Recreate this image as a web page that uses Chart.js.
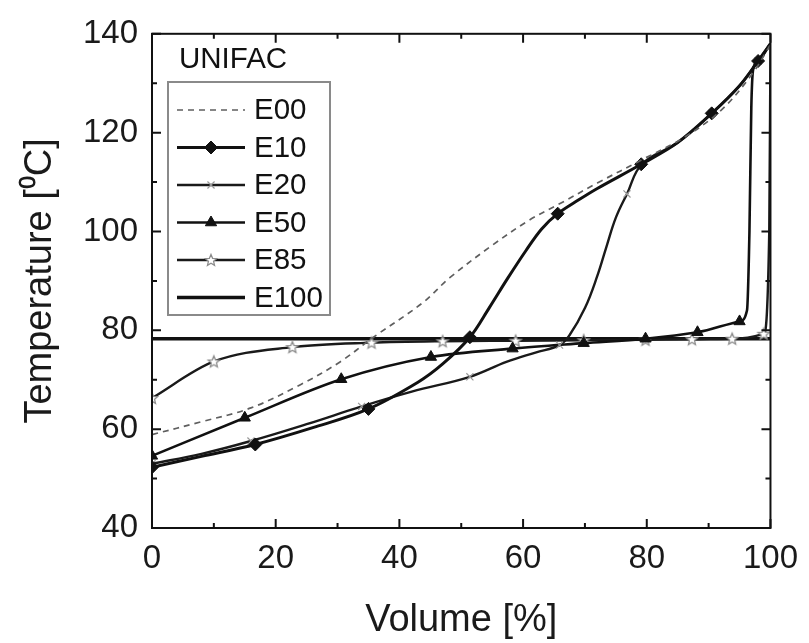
<!DOCTYPE html>
<html>
<head>
<meta charset="utf-8">
<script src="https://cdn.jsdelivr.net/npm/chart.js@4.4.1/dist/chart.umd.min.js"></script>
<style>
  html, body { margin: 0; padding: 0; background: #fff; }
  canvas { display: block; }
</style>
</head>
<body>
<canvas id="chart" width="809" height="643"></canvas>
<script>
// distillation curves, volume [%] vs temperature [C]
const seriesNames = ['E00', 'E10', 'E20', 'E50', 'E85', 'E100'];
const modelName = 'UNIFAC';

const e00X = [0, 8, 16, 24, 30.4, 35.8, 43.8, 48.1, 55, 61, 65.9, 72, 79.2, 86, 92, 97, 100];
const e00T = [58.9, 61.5, 64.3, 69, 73.6, 78.6, 85.6, 90.6, 97.2, 102.3, 105.6, 109.8, 114.5, 119, 124.5, 131.8, 137.8];

const e10X = [0, 8, 16.7, 26, 35, 43, 47, 51.4, 54.5, 57.5, 60.5, 63, 65.6, 69, 72, 79.1, 85, 90.5, 95, 98, 100];
const e10T = [52.3, 54.5, 56.9, 60.3, 64.1, 69.5, 73.2, 78.6, 84.5, 90.5, 96.2, 100.5, 103.6, 106.4, 108.7, 113.6, 118, 123.9, 129.5, 134.5, 138];
const e10Marks = [0, 2, 4, 7, 12, 15, 17, 19];

const e20X = [0, 8, 16, 25, 33.9, 42, 51.4, 57.3, 62, 65.9, 67.5, 70, 72, 73.5, 75, 76.8, 79.2, 85, 90.5, 95, 98, 100];
const e20T = [53, 55, 57.6, 61, 64.6, 67.6, 70.6, 73.6, 75.5, 77, 79, 84.5, 91, 97, 102.8, 107.6, 113.6, 118, 123.9, 129.5, 134.5, 138];
const e20Marks = [0, 2, 4, 6, 9, 15, 18, 20];

const e50X = [0, 15, 30.6, 45.1, 58.3, 69.8, 79.8, 88.2, 95, 96.2, 96.6, 96.9, 97.2, 98, 100];
const e50T = [54.6, 62.3, 70.1, 74.6, 76.3, 77.4, 78.3, 79.6, 81.8, 84, 100, 125, 132.8, 134.5, 138];
const e50Marks = [0, 1, 2, 3, 4, 5, 6, 7, 8];

const e85X = [0, 10, 22.7, 35.5, 47, 58.8, 69.8, 79.8, 87.3, 93.8, 98.9, 99.8, 100];
const e85T = [66.3, 73.7, 76.6, 77.5, 77.8, 77.9, 78.0, 78.1, 78.2, 78.3, 79.3, 100, 138];
const e85Marks = [0, 1, 2, 3, 4, 5, 6, 7, 8, 9, 10];

const e100X = [0, 100];
const e100T = [78.3, 78.3];

const xTicksMajor = 20, xTicksMinor = 10;
const yTicksMajor = 20, yTicksMinor = 10;

const FONT = '"Liberation Sans", Arial, Helvetica, sans-serif';

function pts(xs, ts) {
    return xs.map((x, i) => ({ x: x, y: ts[i] }));
}

function marked(list, r) {
    return ctx => list.includes(ctx.dataIndex) ? r : 0;
}

// small open star like the original marker
function makeStar(r, color) {
    const c = document.createElement('canvas');
    const s = Math.ceil(r * 2 + 4);
    c.width = s; c.height = s;
    const g = c.getContext('2d');
    g.translate(s / 2, s / 2 + 0.5);
    g.beginPath();
    for (let k = 0; k < 10; k++) {
        const rr = k % 2 ? r * 0.45 : r;
        const a = -Math.PI / 2 + k * Math.PI / 5;
        g.lineTo(rr * Math.cos(a), rr * Math.sin(a));
    }
    g.closePath();
    g.fillStyle = '#fff';
    g.fill();
    g.strokeStyle = color;
    g.lineWidth = 1.3;
    g.stroke();
    return c;
}
const starImg = makeStar(6, '#8c8c8c');

const datasets = [
    {
        label: seriesNames[0], data: pts(e00X, e00T),
        borderColor: '#5f5f5f', borderWidth: 1.7, borderDash: [6, 5],
        cubicInterpolationMode: 'default', tension: 0.35,
        pointRadius: 0, legendMarker: false
    },
    {
        label: seriesNames[1], data: pts(e10X, e10T),
        borderColor: '#111', borderWidth: 3,
        cubicInterpolationMode: 'default', tension: 0.35,
        pointStyle: 'rectRot', pointRadius: marked(e10Marks, 6.5),
        pointBackgroundColor: '#111', pointBorderColor: '#111', pointBorderWidth: 1,
        legendMarker: true, legendRadius: 6.5
    },
    {
        label: seriesNames[2], data: pts(e20X, e20T),
        borderColor: '#1a1a1a', borderWidth: 2.4,
        cubicInterpolationMode: 'default', tension: 0.4,
        pointStyle: 'crossRot', pointRadius: marked(e20Marks, 5),
        pointBackgroundColor: '#999', pointBorderColor: '#999', pointBorderWidth: 1.2,
        legendMarker: true, legendRadius: 5
    },
    {
        label: seriesNames[3], data: pts(e50X, e50T),
        borderColor: '#111', borderWidth: 2.6,
        pointStyle: 'triangle', pointRadius: marked(e50Marks, 6.5),
        pointBackgroundColor: '#111', pointBorderColor: '#111', pointBorderWidth: 1,
        legendMarker: true, legendRadius: 6.5
    },
    {
        label: seriesNames[4], data: pts(e85X, e85T),
        borderColor: '#1a1a1a', borderWidth: 2.4,
        pointStyle: starImg, pointRadius: marked(e85Marks, 6),
        pointBackgroundColor: '#fff', pointBorderColor: '#8c8c8c', pointBorderWidth: 1,
        legendMarker: true, legendRadius: 6
    },
    {
        label: seriesNames[5], data: pts(e100X, e100T),
        borderColor: '#111', borderWidth: 3.6,
        pointRadius: 0, legendMarker: false
    }
];

// frame with inward ticks on all four sides
const frameTicks = {
    id: 'frameTicks',
    afterDatasetsDraw(chart) {
        const { ctx, chartArea: a, scales } = chart;
        const x = scales.x, y = scales.y;
        ctx.save();
        ctx.strokeStyle = '#111';
        ctx.lineWidth = 2;
        ctx.strokeRect(a.left, a.top, a.right - a.left, a.bottom - a.top);
        ctx.beginPath();
        for (let v = x.min; v <= x.max; v += xTicksMinor) {
            const p = x.getPixelForValue(v);
            const len = v % xTicksMajor === 0 ? 9 : 5;
            ctx.moveTo(p, a.bottom); ctx.lineTo(p, a.bottom - len);
            ctx.moveTo(p, a.top); ctx.lineTo(p, a.top + len);
        }
        for (let v = y.min; v <= y.max; v += yTicksMinor) {
            const p = y.getPixelForValue(v);
            const len = v % yTicksMajor === 0 ? 9 : 5;
            ctx.moveTo(a.left, p); ctx.lineTo(a.left + len, p);
            ctx.moveTo(a.right, p); ctx.lineTo(a.right - len, p);
        }
        ctx.stroke();
        ctx.restore();
    }
};

// boxed legend inside the plot, with line + marker samples
const boxLegend = {
    id: 'boxLegend',
    afterDraw(chart) {
        const ctx = chart.ctx;
        ctx.save();
        ctx.fillStyle = '#111';
        ctx.font = '29.5px ' + FONT;
        ctx.textBaseline = 'alphabetic';
        ctx.fillText(modelName, 179, 68);

        ctx.strokeStyle = '#8a8a8a';
        ctx.lineWidth = 2;
        ctx.strokeRect(168, 82, 162, 233);

        ctx.font = '29.5px ' + FONT;
        ctx.textBaseline = 'middle';
        chart.data.datasets.forEach((ds, i) => {
            const yy = 110 + i * 37.5;
            ctx.strokeStyle = ds.borderColor;
            ctx.lineWidth = ds.borderWidth;
            ctx.setLineDash(ds.borderDash || []);
            ctx.beginPath();
            ctx.moveTo(177, yy);
            ctx.lineTo(245, yy);
            ctx.stroke();
            ctx.setLineDash([]);
            if (ds.legendMarker) {
                ctx.fillStyle = ds.pointBackgroundColor;
                ctx.strokeStyle = ds.pointBorderColor;
                ctx.lineWidth = ds.pointBorderWidth;
                Chart.helpers.drawPoint(ctx, {
                    pointStyle: ds.pointStyle,
                    radius: ds.legendRadius,
                    borderWidth: ds.pointBorderWidth,
                    rotation: 0
                }, 211, yy);
            }
            ctx.fillStyle = '#111';
            ctx.fillText(ds.label, 254, yy + 1);
        });
        ctx.restore();
    }
};

const chart = new Chart(document.getElementById('chart').getContext('2d'), {
    type: 'scatter',
    data: { datasets: datasets },
    options: {
        responsive: false,
        animation: false,
        showLine: true,
        layout: { padding: { left: 0, top: 28, right: 37, bottom: 0 } },
        elements: {
            line: { cubicInterpolationMode: 'monotone', fill: false },
            point: { hoverRadius: 0 }
        },
        plugins: {
            legend: { display: false },
            tooltip: { enabled: false }
        },
        scales: {
            x: {
                type: 'linear',
                min: 0, max: 100,
                afterFit: s => { s.height = 115; },
                grid: { display: false, drawTicks: false },
                border: { display: false },
                ticks: {
                    stepSize: xTicksMajor, maxRotation: 0, autoSkip: false,
                    padding: 11, color: '#1a1a1a',
                    font: { family: FONT, size: 33 }
                },
                title: {
                    display: true, text: 'Volume [%]', color: '#1a1a1a',
                    font: { family: FONT, size: 38 },
                    padding: { top: 0, bottom: 0 }
                }
            },
            y: {
                type: 'linear',
                min: 40, max: 140,
                afterFit: s => { s.width = 152; },
                grid: { display: false, drawTicks: false },
                border: { display: false },
                ticks: {
                    stepSize: yTicksMajor, autoSkip: false,
                    padding: 14, color: '#1a1a1a',
                    font: { family: FONT, size: 33 }
                },
                title: {
                    display: true, text: 'Temperature [\u2070C]', color: '#1a1a1a',
                    font: { family: FONT, size: 38 },
                    padding: { top: 18, bottom: 0 }
                }
            }
        }
    },
    plugins: [frameTicks, boxLegend]
});
</script>
</body>
</html>
